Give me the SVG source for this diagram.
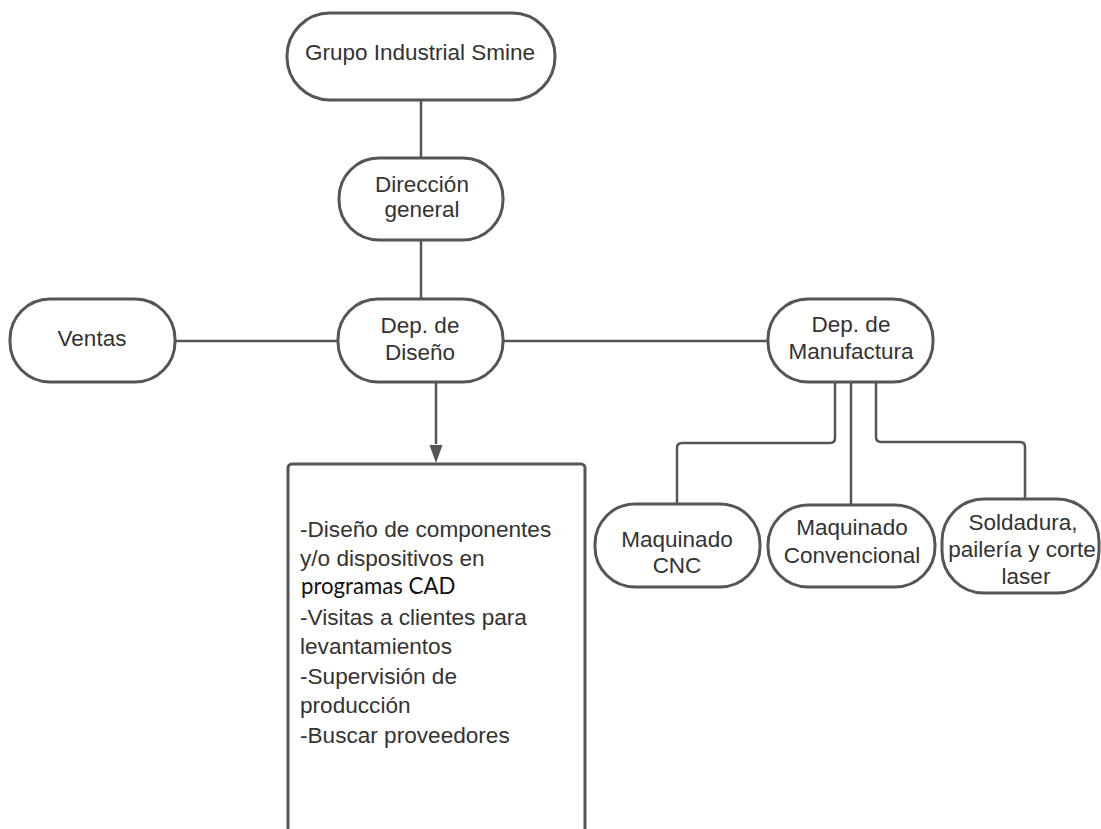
<svg xmlns="http://www.w3.org/2000/svg" width="1101" height="829" viewBox="0 0 1101 829">
<style>
.n{fill:#fff;stroke:#555;stroke-width:3}
.c{fill:none;stroke:#555;stroke-width:2.5}
.t{font-family:"Liberation Sans",Arial,sans-serif;font-size:22.5px;fill:#333;text-anchor:middle}
.l{font-family:"Liberation Sans",Arial,sans-serif;font-size:22.6px;fill:#333}
.k{font-family:Lato,"Open Sans",sans-serif;font-size:22.2px;fill:#111}
</style>
<rect width="1101" height="829" fill="#fff"/>
<g id="connectors">
<line class="c" x1="421" y1="100" x2="421" y2="158"/>
<line class="c" x1="421" y1="240" x2="421" y2="300"/>
<line class="c" x1="175" y1="341" x2="338" y2="341"/>
<line class="c" x1="503" y1="341" x2="768" y2="341"/>
<path class="c" d="M436,382 L436,444"/>
<path d="M429.5,445 L442.5,445 L436,463 Z" fill="#555"/>
<path class="c" d="M835,382 L835,438 Q835,443 830,443 L682,443 Q677,443 677,448 L677,504"/>
<line class="c" x1="851" y1="382" x2="851" y2="505"/>
<path class="c" d="M876,382 L876,437 Q876,442 881,442 L1020,442 Q1025,442 1025,447 L1025,499"/>
</g>
<g id="grupo">
<rect class="n" x="287" y="13" width="268" height="87" rx="43"/>
<text class="t" x="420" y="60">Grupo Industrial Smine</text>
</g>
<g id="direccion">
<rect class="n" x="339" y="158" width="164" height="82" rx="40"/>
<text class="t" x="422" y="192">Dirección</text>
<text class="t" x="422" y="217">general</text>
</g>
<g id="ventas">
<rect class="n" x="10" y="299" width="165" height="83" rx="40"/>
<text class="t" x="92" y="346">Ventas</text>
</g>
<g id="diseno">
<rect class="n" x="338" y="299" width="165" height="83" rx="40"/>
<text class="t" x="420" y="333">Dep. de</text>
<text class="t" x="420" y="360">Diseño</text>
</g>
<g id="manufactura">
<rect class="n" x="768" y="299" width="165" height="83" rx="40"/>
<text class="t" x="851" y="332">Dep. de</text>
<text class="t" x="851" y="359">Manufactura</text>
</g>
<g id="funciones">
<rect class="n" x="288" y="464" width="297" height="380" rx="4"/>
<text class="l" x="300" y="537">-Diseño de componentes</text>
<text class="l" x="300" y="566">y/o dispositivos en</text>
<text class="k" x="301" y="594">programas CAD</text>
<text class="l" x="300" y="625">-Visitas a clientes para</text>
<text class="l" x="300" y="654">levantamientos</text>
<text class="l" x="300" y="684">-Supervisión de</text>
<text class="l" x="300" y="713">producción</text>
<text class="l" x="300" y="743">-Buscar proveedores</text>
</g>
<g id="cnc">
<rect class="n" x="595" y="504" width="165" height="83" rx="40"/>
<text class="t" x="677" y="547">Maquinado</text>
<text class="t" x="677" y="573">CNC</text>
</g>
<g id="convencional">
<rect class="n" x="768" y="505" width="167" height="82" rx="40"/>
<text class="t" x="852" y="535">Maquinado</text>
<text class="t" x="852" y="563">Convencional</text>
</g>
<g id="soldadura">
<rect class="n" x="942" y="499" width="157" height="94" rx="42"/>
<text class="t" x="1023" y="530">Soldadura,</text>
<text class="t" x="1022" y="557">pailería y corte</text>
<text class="t" x="1026" y="584">laser</text>
</g>
</svg>
